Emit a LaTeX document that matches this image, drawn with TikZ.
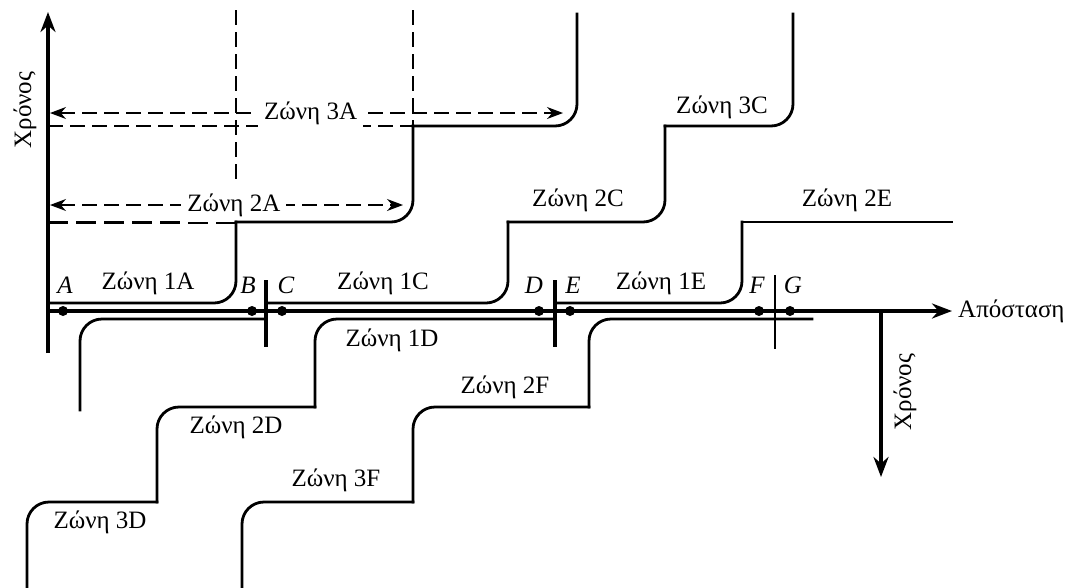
\documentclass[tikz,border=0pt]{standalone}
\usepackage{fontspec}
\setmainfont{Liberation Serif}
\usetikzlibrary{arrows.meta}
\begin{document}
\begin{tikzpicture}[x=1pt,y=-1pt,line join=round,>={Stealth[length=20pt,width=15pt]}]
			\tikzset{every node/.style={font=\fontsize{25}{27}\selectfont,inner sep=2pt},
				axisline/.style={line width=3.5pt,->},
				stair/.style={line width=2.8pt,rounded corners=22pt,line cap=rect},
				guide/.style={line width=1.3pt,dash pattern=on 15pt off 7pt},
				zonearrow/.style={guide,{Stealth[length=16pt,width=12pt]}-{Stealth[length=16pt,width=12pt]}},
				gap/.style={fill=white,inner sep=6pt},
				crossing/.style={line width=3.5pt},
				dot/.style={circle,fill,inner sep=0pt,minimum size=10pt},
				pt/.style={font=\fontsize{25}{27}\selectfont\itshape}}
			\useasboundingbox (0,0) rectangle (1070,587);
			% axes
			\coordinate (O) at (48,311);
			\coordinate (ybot) at (48,353);
			\coordinate (ytop) at (48,12);
			\coordinate (xend) at (952,311);
			\coordinate (t0) at (881,311);
			\coordinate (t1) at (881,477);
			\draw[axisline] (ybot) -- (ytop);
			\draw[axisline] (O) -- (xend);
			\draw[axisline] (t0) -- (t1);
			\node[anchor=west] (dist) at (956,311) {Απόσταση};
			\node[rotate=90] (timeL) at (25,110) {Χρόνος};
			\node[rotate=90] (timeR) at (905,392) {Χρόνος};
			% guide lines
			\draw[guide] (236,10) -- (236,183);
			\draw[guide] (413,10) -- (413,126);
			\draw[guide] (48,126) -- (413,126);
			\draw[line width=3pt,dash pattern=on 20pt off 8pt] (48,222) -- (236,222);
			\draw[zonearrow] (50,113) -- node[gap,pos=0.508] (z3A) {Ζώνη 3A} (563,113);
			\draw[zonearrow] (50,205) -- node[gap,pos=0.521] (z2A) {Ζώνη 2A} (403,205);
			% upper stairs
			\draw[stair] (48,303) -- (236,303) -- (236,222);
			\draw[stair] (236,222) -- (413,222) -- (413,126);
			\draw[stair] (413,126) -- (577,126) -- (577,14);
			\draw[stair] (267,303) -- (508,303) -- (508,222);
			\draw[stair] (508,222) -- (665,222) -- (665,126);
			\draw[stair] (665,126) -- (793,126) -- (793,14);
			\draw[stair] (555,303) -- (742,303) -- (742,222);
			\draw[stair] (742,222) -- (952,222);
			% lower stairs
			\draw[stair] (265,319) -- (80,319) -- (80,410);
			\draw[stair] (555,319) -- (315,319) -- (315,407);
			\draw[stair] (315,407) -- (157,407) -- (157,502);
			\draw[stair] (157,502) -- (27,502) -- (27,587);
			\draw[stair] (812,319) -- (589,319) -- (589,407);
			\draw[stair] (589,407) -- (413,407) -- (413,502);
			\draw[stair] (413,502) -- (242,502) -- (242,587);
			% crossings
			\draw[crossing] (266,280) -- (266,347);
			\draw[crossing] (555,280) -- (555,347);
			\draw[line width=2.5pt] (775,275) -- (775,349);
			% points
			\foreach \n/\x/\lx in {A/63/65,B/252/248,C/282/286,D/539/534,E/570/573,F/759/757,G/790/793}{
				\node[dot] (p\n) at (\x,311) {};
				\node[pt] (l\n) at (\lx,285) {\n};
			}
			% zone labels
			\node (z1A) at (148,283) {Ζώνη 1A};
			\node (z1C) at (383,283) {Ζώνη 1C};
			\node (z1E) at (661,283) {Ζώνη 1E};
			\node (z1D) at (392,340) {Ζώνη 1D};
			\node (z2C) at (578,200) {Ζώνη 2C};
			\node (z3C) at (722,107) {Ζώνη 3C};
			\node (z2E) at (847,200) {Ζώνη 2E};
			\node (z2D) at (236,427) {Ζώνη 2D};
			\node (z3D) at (100,522) {Ζώνη 3D};
			\node (z2F) at (505,387) {Ζώνη 2F};
			\node (z3F) at (336,480) {Ζώνη 3F};
		\end{tikzpicture}
\end{document}
